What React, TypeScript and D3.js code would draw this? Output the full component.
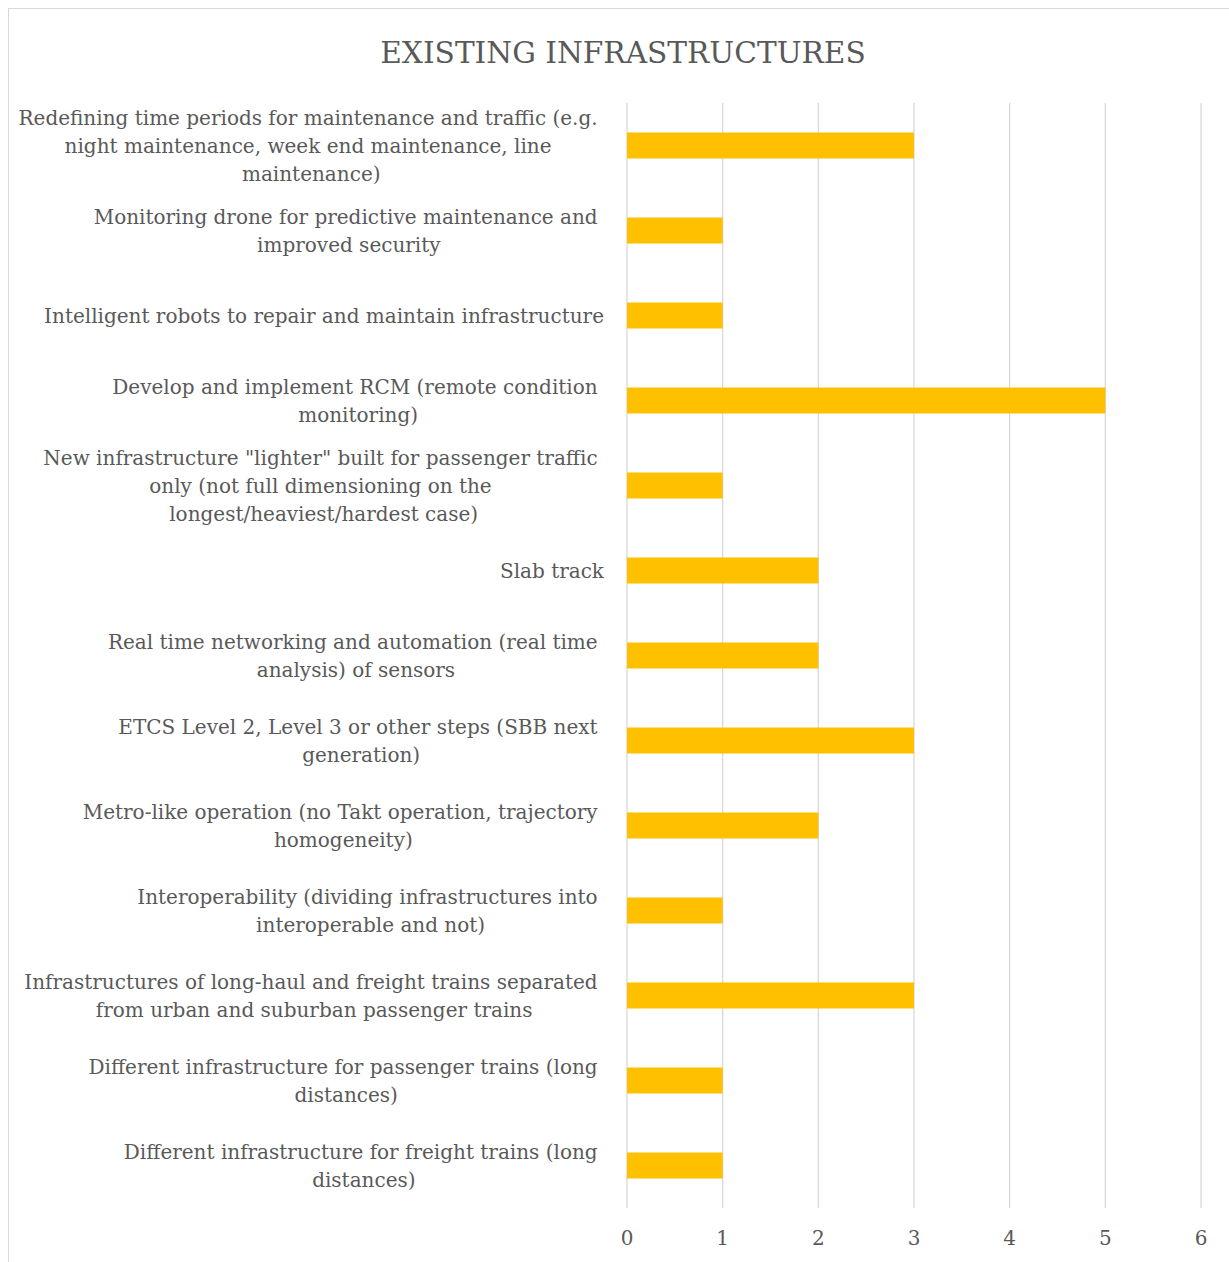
import React from "react";
import * as d3 from "d3";

const categories: string[] = [
  "Redefining time periods for maintenance and traffic (e.g.\nnight maintenance, week end maintenance, line\nmaintenance)",
  "Monitoring drone for predictive maintenance and\nimproved security",
  "Intelligent robots to repair and maintain infrastructure",
  "Develop and implement RCM (remote condition\nmonitoring)",
  "New infrastructure \"lighter\" built for passenger traffic\nonly (not full dimensioning on the\nlongest/heaviest/hardest case)",
  "Slab track",
  "Real time networking and automation (real time\nanalysis) of sensors",
  "ETCS Level 2, Level 3 or other steps (SBB next\ngeneration)",
  "Metro-like operation (no Takt operation, trajectory\nhomogeneity)",
  "Interoperability (dividing infrastructures into\ninteroperable and not)",
  "Infrastructures of long-haul and freight trains separated\nfrom urban and suburban passenger trains",
  "Different infrastructure for passenger trains (long\ndistances)",
  "Different infrastructure for freight trains (long\ndistances)",
];
const values: number[] = [3, 1, 1, 5, 1, 2, 2, 3, 2, 1, 3, 1, 1];
const xTicks: number[] = [0, 1, 2, 3, 4, 5, 6];
const title = "EXISTING INFRASTRUCTURES";

const W = 1229;
const H = 1262;
const plotLeft = 627;
const plotRight = 1201;
const plotTop = 103;
const plotBottom = 1208;
const labelRight = 604;
const FONT = "'DejaVu Serif', serif";
const labelSize = 20;
const lineH = 28;
const textColor = "#595959";

let ctx: CanvasRenderingContext2D | null = null;
function measure(s: string, size: number): number {
  if (!ctx) ctx = document.createElement("canvas").getContext("2d");
  if (!ctx) return s.length * size * 0.5;
  ctx.font = `${size}px 'DejaVu Serif', serif`;
  return ctx.measureText(s).width;
}

export default function App() {
  const x = d3.scaleLinear().domain([0, 6]).range([plotLeft, plotRight]);
  const y = d3
    .scaleBand<number>()
    .domain(d3.range(categories.length))
    .range([plotTop, plotBottom])
    .paddingInner(0.694)
    .paddingOuter(0.347);

  return (
    <svg
      width={W}
      height={H}
      style={{ position: "absolute", left: 0, top: 0, display: "block" }}
      fontFamily={FONT}
    >
      <rect x={0} y={0} width={W} height={H} fill="#ffffff" />
      <rect x={8.5} y={8.5} width={1240} height={1270} fill="none" stroke="#d9d9d9" strokeWidth={1} />
      <text x={623} y={63} textAnchor="middle" fontSize={29.6} fill={textColor}>
        {title}
      </text>
      {xTicks.map((t) => (
        <g key={t}>
          <line x1={x(t)} x2={x(t)} y1={plotTop} y2={plotBottom} stroke="#d9d9d9" strokeWidth={1.3} />
          <text x={x(t)} y={1245} textAnchor="middle" fontSize={20} fill={textColor}>
            {t}
          </text>
        </g>
      ))}
      {values.map((v, i) => (
        <rect
          key={i}
          x={x(0)}
          y={y(i)!}
          width={x(v) - x(0)}
          height={y.bandwidth()}
          fill="#FFC000"
        />
      ))}
      {categories.map((c, i) => {
        const lines = c.split("\n");
        const padded = lines.map((l, k) => (k < lines.length - 1 ? l + " " : l));
        const maxW = d3.max(padded, (l) => measure(l, labelSize)) ?? 0;
        const cx = labelRight - maxW / 2;
        const cy = y(i)! + y.bandwidth() / 2;
        const y0 = cy - ((lines.length - 1) * lineH) / 2;
        return (
          <text key={i} fontSize={labelSize} fill={textColor} textAnchor="middle" style={{ whiteSpace: "pre" }}>
            {padded.map((l, k) => (
              <tspan key={k} x={cx} y={y0 + k * lineH} dy="0.35em">
                {l}
              </tspan>
            ))}
          </text>
        );
      })}
    </svg>
  );
}
